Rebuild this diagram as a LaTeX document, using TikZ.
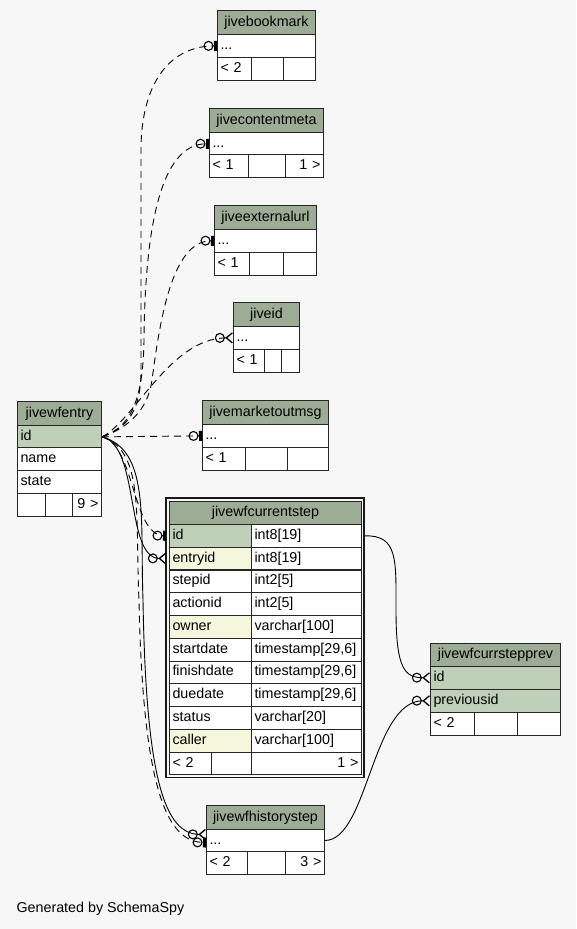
\documentclass[tikz,border=0pt]{standalone}
\usepackage{fontspec}
\setmainfont{Liberation Sans}
\usetikzlibrary{arrows.meta}
\definecolor{bgcol}{RGB}{247,247,247}
\definecolor{hdcol}{RGB}{157,172,148}
\definecolor{pkcol}{RGB}{191,208,184}
\definecolor{ixcol}{RGB}{244,247,219}
\newcommand\tabfont{\fontsize{14.3}{16}\selectfont}
\tikzset{
  cell/.style={draw=black!85, line width=1pt, anchor=north west, inner xsep=3pt, inner ysep=0pt,
    minimum height=22.7pt, text height=10pt, text depth=3pt, font=\tabfont, align=left, fill=white},
  head/.style={cell, fill=hdcol, align=center, minimum height=24pt},
  pk/.style={cell, fill=pkcol},
  ix/.style={cell, fill=ixcol},
  rgt/.style={cell, align=right},
  link/.style={line width=0.9pt},
  implied/.style={link, dash pattern=on 7pt off 5pt},
  zeroone/.style={-{Circle[open,length=10pt,width=10pt,line width=1.1pt,sep=0.5pt]Bar[width=10pt,line width=3pt]}},
  zeromany/.style={-{Circle[open,length=10pt,width=10pt,line width=1.1pt,sep=0.5pt]Straight Barb[reversed,length=6pt,width=10pt,line width=1.3pt]}},
}
\begin{document}
\begin{tikzpicture}[x=1pt, y=-1pt]
\fill[bgcol] (0,0) rectangle (576,929);
% jivebookmark
\node[head, text width=92pt] (bm) at (217,10) {jivebookmark};
\node[cell, text width=92pt] (bmrow) at (217,34) {...};
\node[cell, text width=28pt] (bmf1) at (217,57) {< 2};
\node[cell, text width=26pt] (bmf2) at (251,57) {};
\node[cell, text width=26pt] (bmf3) at (283,57) {};
% jivecontentmeta
\node[head, text width=108pt] (cm) at (209,108) {jivecontentmeta};
\node[cell, text width=108pt] (cmrow) at (209,132) {...};
\node[cell, text width=33pt] (cmf1) at (209,154) {< 1};
\node[cell, text width=31pt] (cmf2) at (248,154) {};
\node[rgt, text width=32pt] (cmf3) at (285,154) {1 >};
% jiveexternalurl
\node[head, text width=96pt] (eu) at (214,205) {jiveexternalurl};
\node[cell, text width=96pt] (eurow) at (214,229) {...};
\node[cell, text width=29pt] (euf1) at (214,252) {< 1};
\node[cell, text width=28pt] (euf2) at (249,252) {};
\node[cell, text width=27pt] (euf3) at (283,252) {};
% jiveid
\node[head, text width=60pt] (ji) at (233,302) {jiveid};
\node[cell, text width=60pt] (jirow) at (233,326) {...};
\node[cell, text width=25pt] (jif1) at (233,349) {< 1};
\node[cell, text width=11pt] (jif2) at (264,349) {};
\node[cell, text width=12pt] (jif3) at (281,349) {};
% jivemarketoutmsg
\node[head, text width=120pt] (mo) at (202,400) {jivemarketoutmsg};
\node[cell, text width=120pt] (morow) at (202,424) {...};
\node[cell, text width=37pt] (mof1) at (202,447) {< 1};
\node[cell, text width=36pt] (mof2) at (245,447) {};
\node[cell, text width=35pt] (mof3) at (287,447) {};
% jivewfentry
\node[head, text width=78pt] (en) at (17,401) {jivewfentry};
\node[pk, text width=78pt] (eid) at (17,425) {id};
\node[cell, text width=78pt] (ename) at (17,447) {name};
\node[cell, text width=78pt] (estate) at (17,470) {state};
\node[cell, text width=22pt] (ef1) at (17,493) {};
\node[cell, text width=21pt] (ef2) at (45,493) {};
\node[rgt, text width=23pt] (ef3) at (72,493) {9 >};
% jivewfcurrentstep
\draw[line width=1.6pt, draw=black!90] (166,498) rectangle (364,777.5);
\node[head, text width=186pt, minimum height=23.5pt] (cs) at (169,501) {jivewfcurrentstep};
\node[pk, text width=76pt] (csid) at (169,524) {id};
\node[cell, text width=104pt] (csidt) at (251,524) {int8[19]};
\node[ix, text width=76pt] (csentry) at (169,546.7) {entryid};
\node[cell, text width=104pt] (csentryt) at (251,546.7) {int8[19]};
\node[cell, text width=76pt] (csstep) at (169,569.5) {stepid};
\node[cell, text width=104pt] (csstept) at (251,569.5) {int2[5]};
\node[cell, text width=76pt] (csaction) at (169,592.3) {actionid};
\node[cell, text width=104pt] (csactiont) at (251,592.3) {int2[5]};
\node[ix, text width=76pt] (csowner) at (169,615.1) {owner};
\node[cell, text width=104pt] (csownert) at (251,615.1) {varchar[100]};
\node[cell, text width=76pt] (csstart) at (169,637.9) {startdate};
\node[cell, text width=104pt] (csstartt) at (251,637.9) {timestamp[29,6]};
\node[cell, text width=76pt] (csfinish) at (169,660.6) {finishdate};
\node[cell, text width=104pt] (csfinisht) at (251,660.6) {timestamp[29,6]};
\node[cell, text width=76pt] (csdue) at (169,683.4) {duedate};
\node[cell, text width=104pt] (csduet) at (251,683.4) {timestamp[29,6]};
\node[cell, text width=76pt] (csstatus) at (169,706.2) {status};
\node[cell, text width=104pt] (csstatust) at (251,706.2) {varchar[20]};
\node[ix, text width=76pt] (cscaller) at (169,729) {caller};
\node[cell, text width=104pt] (cscallert) at (251,729) {varchar[100]};
\node[cell, text width=36pt] (csf1) at (169,751.7) {< 2};
\node[cell, text width=34pt] (csf2) at (211,751.7) {};
\node[rgt, text width=104pt] (csf3) at (251,751.7) {1 >};
% jivewfcurrstepprev
\node[head, text width=124pt, minimum height=23pt] (cp) at (430,643) {jivewfcurrstepprev};
\node[pk, text width=124pt] (cpid) at (430,666) {id};
\node[pk, text width=124pt] (cpprev) at (430,689) {previousid};
\node[cell, text width=38pt] (cpf1) at (430,712) {< 2};
\node[cell, text width=37pt] (cpf2) at (474,712) {};
\node[cell, text width=37pt] (cpf3) at (517,712) {};
% jivewfhistorystep
\node[head, text width=112pt] (hs) at (206,805) {jivewfhistorystep};
\node[cell, text width=112pt, minimum height=22pt] (hsrow) at (206,829) {...};
\node[cell, text width=35pt] (hsf1) at (206,851) {< 2};
\node[cell, text width=32pt] (hsf2) at (247,851) {};
\node[rgt, text width=33pt] (hsf3) at (285,851) {3 >};
% connectors
\draw[implied, zeroone] (eid.east) .. controls (128,428) and (141,410) .. (141,370) -- (141,150) .. controls (141,90) and (165,46) .. (bmrow.west);
\draw[implied, zeroone] (eid.east) .. controls (126,428) and (143,410) .. (144,340) .. controls (145,230) and (160,143) .. (cmrow.west);
\draw[implied, zeroone] (eid.east) .. controls (128,428) and (148,410) .. (152,380) .. controls (160,320) and (172,240) .. (eurow.west);
\draw[implied, zeromany] (eid.east) .. controls (135,420) and (170,338) .. (jirow.west);
\draw[implied, zeroone] (eid.east) -- (morow.west);
\draw[implied, zeroone, shorten >=3pt] (eid.east) .. controls (135,445) and (132,535) .. (csid.west);
\draw[link, zeromany, shorten >=3pt] (eid.east) .. controls (140,445) and (125,558) .. (csentry.west);
\draw[link, zeromany] (eid.east) .. controls (150,450) and (140,520) .. (143,600) .. controls (146,780) and (165,834) .. ([yshift=6pt]hsrow.west);
\draw[implied, zeroone] (eid.east) .. controls (145,450) and (135,520) .. (139,600) .. controls (143,800) and (170,842) .. ([yshift=-2pt]hsrow.west);
\draw[link, zeromany] ([xshift=3pt]csidt.east) .. controls (398,535) and (396,560) .. (396,610) .. controls (396,670) and (405,677.5) .. (cpid.west);
\draw[link, zeromany] (hsrow.east) .. controls (368,840) and (372,700) .. (cpprev.west);
\node[anchor=west, font=\tabfont] (gen) at (13,909) {Generated by SchemaSpy};
\end{tikzpicture}
\end{document}
